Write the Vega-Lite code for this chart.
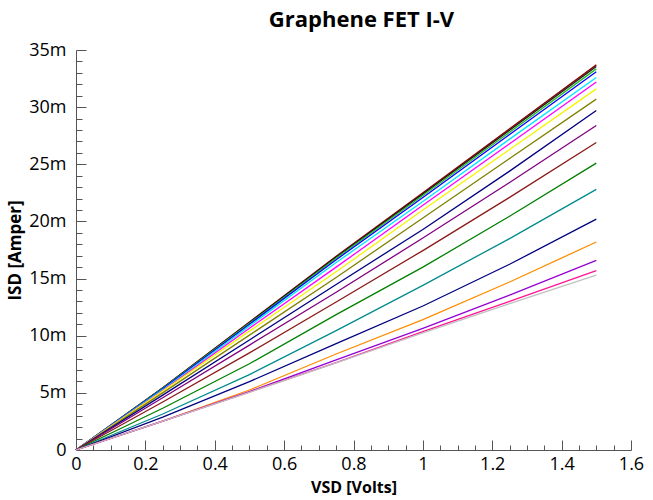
{
  "$schema": "https://vega.github.io/schema/vega-lite/v6.json",
  "width": 555,
  "height": 400,
  "autosize": "none",
  "padding": {"left": 76, "top": 50, "right": 22, "bottom": 50},
  "background": "white",
  "title": {"text": "Graphene FET I-V", "font": "Open Sans", "fontSize": 22, "fontWeight": "bold", "color": "#000000", "anchor": "middle", "offset": 9, "dx": 8},
  "config": {"view": {"stroke": null}, "axis": {"labelFont": "Open Sans", "titleFont": "Open Sans", "grid": false}},
  "data": {"values": [
    {"s":"c1","v":0,"i":0},{"s":"c1","v":0.25,"i":0.00545},{"s":"c1","v":0.5,"i":0.0112},{"s":"c1","v":0.75,"i":0.01695},{"s":"c1","v":1.0,"i":0.0225},{"s":"c1","v":1.25,"i":0.0281},{"s":"c1","v":1.5,"i":0.0337},
    {"s":"c2","v":0,"i":0},{"s":"c2","v":0.25,"i":0.00542},{"s":"c2","v":0.5,"i":0.01115},{"s":"c2","v":0.75,"i":0.01688},{"s":"c2","v":1.0,"i":0.0224},{"s":"c2","v":1.25,"i":0.02798},{"s":"c2","v":1.5,"i":0.03355},
    {"s":"c3","v":0,"i":0},{"s":"c3","v":0.25,"i":0.0054},{"s":"c3","v":0.5,"i":0.01108},{"s":"c3","v":0.75,"i":0.01678},{"s":"c3","v":1.0,"i":0.02227},{"s":"c3","v":1.25,"i":0.0278},{"s":"c3","v":1.5,"i":0.03335},
    {"s":"c4","v":0,"i":0},{"s":"c4","v":0.25,"i":0.00536},{"s":"c4","v":0.5,"i":0.011},{"s":"c4","v":0.75,"i":0.01665},{"s":"c4","v":1.0,"i":0.0221},{"s":"c4","v":1.25,"i":0.0276},{"s":"c4","v":1.5,"i":0.0331},
    {"s":"c5","v":0,"i":0},{"s":"c5","v":0.25,"i":0.00528},{"s":"c5","v":0.5,"i":0.01085},{"s":"c5","v":0.75,"i":0.0164},{"s":"c5","v":1.0,"i":0.02175},{"s":"c5","v":1.25,"i":0.0272},{"s":"c5","v":1.5,"i":0.0326},
    {"s":"c6","v":0,"i":0},{"s":"c6","v":0.25,"i":0.0052},{"s":"c6","v":0.5,"i":0.01065},{"s":"c6","v":0.75,"i":0.016},{"s":"c6","v":1.0,"i":0.02142},{"s":"c6","v":1.25,"i":0.0268},{"s":"c6","v":1.5,"i":0.0322},
    {"s":"c7","v":0,"i":0},{"s":"c7","v":0.25,"i":0.00517},{"s":"c7","v":0.5,"i":0.0104},{"s":"c7","v":0.75,"i":0.0156},{"s":"c7","v":1.0,"i":0.021},{"s":"c7","v":1.25,"i":0.0263},{"s":"c7","v":1.5,"i":0.0316},
    {"s":"c8","v":0,"i":0},{"s":"c8","v":0.25,"i":0.005},{"s":"c8","v":0.5,"i":0.01005},{"s":"c8","v":0.75,"i":0.0151},{"s":"c8","v":1.0,"i":0.0203},{"s":"c8","v":1.25,"i":0.0255},{"s":"c8","v":1.5,"i":0.0307},
    {"s":"c9","v":0,"i":0},{"s":"c9","v":0.25,"i":0.0048},{"s":"c9","v":0.5,"i":0.00963},{"s":"c9","v":0.75,"i":0.01448},{"s":"c9","v":1.0,"i":0.0193},{"s":"c9","v":1.25,"i":0.0244},{"s":"c9","v":1.5,"i":0.0297},
    {"s":"c10","v":0,"i":0},{"s":"c10","v":0.25,"i":0.00457},{"s":"c10","v":0.5,"i":0.00918},{"s":"c10","v":0.75,"i":0.0138},{"s":"c10","v":1.0,"i":0.01855},{"s":"c10","v":1.25,"i":0.0234},{"s":"c10","v":1.5,"i":0.0284},
    {"s":"c11","v":0,"i":0},{"s":"c11","v":0.25,"i":0.0042},{"s":"c11","v":0.5,"i":0.0085},{"s":"c11","v":0.75,"i":0.01295},{"s":"c11","v":1.0,"i":0.01745},{"s":"c11","v":1.25,"i":0.0221},{"s":"c11","v":1.5,"i":0.0269},
    {"s":"c12","v":0,"i":0},{"s":"c12","v":0.25,"i":0.00365},{"s":"c12","v":0.5,"i":0.00755},{"s":"c12","v":0.75,"i":0.01185},{"s":"c12","v":1.0,"i":0.016},{"s":"c12","v":1.25,"i":0.02045},{"s":"c12","v":1.5,"i":0.0251},
    {"s":"c13","v":0,"i":0},{"s":"c13","v":0.25,"i":0.00315},{"s":"c13","v":0.5,"i":0.0066},{"s":"c13","v":0.75,"i":0.01045},{"s":"c13","v":1.0,"i":0.0144},{"s":"c13","v":1.25,"i":0.0185},{"s":"c13","v":1.5,"i":0.0228},
    {"s":"c14","v":0,"i":0},{"s":"c14","v":0.25,"i":0.00288},{"s":"c14","v":0.5,"i":0.00598},{"s":"c14","v":0.75,"i":0.0093},{"s":"c14","v":1.0,"i":0.0126},{"s":"c14","v":1.25,"i":0.01625},{"s":"c14","v":1.5,"i":0.0202},
    {"s":"c15","v":0,"i":0},{"s":"c15","v":0.25,"i":0.00252},{"s":"c15","v":0.5,"i":0.00525},{"s":"c15","v":0.75,"i":0.0084},{"s":"c15","v":1.0,"i":0.0114},{"s":"c15","v":1.25,"i":0.0147},{"s":"c15","v":1.5,"i":0.0182},
    {"s":"c16","v":0,"i":0},{"s":"c16","v":0.25,"i":0.00252},{"s":"c16","v":0.5,"i":0.0051},{"s":"c16","v":0.75,"i":0.00788},{"s":"c16","v":1.0,"i":0.01065},{"s":"c16","v":1.25,"i":0.01356},{"s":"c16","v":1.5,"i":0.0166},
    {"s":"c17","v":0,"i":0},{"s":"c17","v":0.25,"i":0.00252},{"s":"c17","v":0.5,"i":0.00507},{"s":"c17","v":0.75,"i":0.00765},{"s":"c17","v":1.0,"i":0.01035},{"s":"c17","v":1.25,"i":0.013},{"s":"c17","v":1.5,"i":0.0157},
    {"s":"c18","v":0,"i":0},{"s":"c18","v":0.25,"i":0.00252},{"s":"c18","v":0.5,"i":0.00505},{"s":"c18","v":0.75,"i":0.00762},{"s":"c18","v":1.0,"i":0.01025},{"s":"c18","v":1.25,"i":0.0128},{"s":"c18","v":1.5,"i":0.0153}
  ]},
  "layer": [
    {
      "mark": {"type": "line", "strokeWidth": 1.3},
      "encoding": {
        "x": {"field": "v", "type": "quantitative", "scale": {"domain": [0, 1.6], "nice": false},
          "axis": {"title": "VSD [Volts]", "titleFontSize": 16, "titleFontWeight": "bold", "titleColor": "#000", "titlePadding": 6,
            "values": [0, 0.2, 0.4, 0.6, 0.8, 1, 1.2, 1.4, 1.6], "format": "~g", "labelFontSize": 18, "labelColor": "#000", "labelPadding": 15,
            "tickSize": -10, "tickColor": "#555", "domainColor": "#555", "labelFlush": false, "labelOverlap": false}},
        "y": {"field": "i", "type": "quantitative", "scale": {"domain": [0, 0.035], "nice": false},
          "axis": {"title": "ISD [Amper]", "titleFontSize": 17, "titleFontWeight": "bold", "titleColor": "#000", "titlePadding": 4,
            "values": [0, 0.005, 0.01, 0.015, 0.02, 0.025, 0.03, 0.035], "labelExpr": "datum.value == 0 ? '0' : format(datum.value * 1000, 'd') + 'm'", "labelFontSize": 18, "labelColor": "#000", "labelPadding": 20,
            "tickSize": -10, "tickColor": "#555", "domainColor": "#555", "labelFlush": false, "labelOverlap": false}},
        "color": {"field": "s", "type": "nominal", "legend": null,
          "scale": {"domain": ["c1","c2","c3","c4","c5","c6","c7","c8","c9","c10","c11","c12","c13","c14","c15","c16","c17","c18"],
            "range": ["#8b0000","#1a1a1a","#22bb22","#0000ff","#00e5ff","#ff00ff","#f5f500","#808000","#000080","#800080","#8b1a1a","#008000","#008b8b","#000080","#ff8c00","#9400d3","#ff1493","#c0c0c0"]}}
      }
    },
    {
      "mark": {"type": "line", "strokeOpacity": 0},
      "encoding": {
        "x": {"field": "v", "type": "quantitative",
          "axis": {"orient": "bottom", "title": null, "labels": false, "domain": false, "tickSize": -5, "tickColor": "#555",
            "values": [0.05,0.1,0.15,0.25,0.3,0.35,0.45,0.5,0.55,0.65,0.7,0.75,0.85,0.9,0.95,1.05,1.1,1.15,1.25,1.3,1.35,1.45,1.5,1.55]}},
        "y": {"field": "i", "type": "quantitative",
          "axis": {"orient": "left", "title": null, "labels": false, "domain": false, "tickSize": -6, "tickColor": "#555",
            "values": [0.001,0.002,0.003,0.004,0.006,0.007,0.008,0.009,0.011,0.012,0.013,0.014,0.016,0.017,0.018,0.019,0.021,0.022,0.023,0.024,0.026,0.027,0.028,0.029,0.031,0.032,0.033,0.034]}},
        "detail": {"field": "s"}
      }
    }
  ],
  "resolve": {"axis": {"x": "independent", "y": "independent"}}
}
